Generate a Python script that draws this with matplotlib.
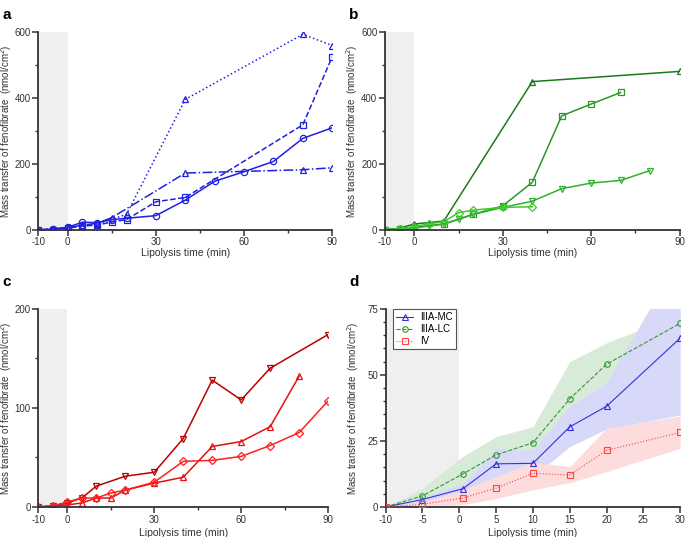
import numpy as np
import matplotlib
matplotlib.use("Agg")
import matplotlib.pyplot as plt
from matplotlib.ticker import MultipleLocator

plt.rcParams['font.family'] = ['Liberation Sans', 'DejaVu Sans']
plt.rcParams['font.size'] = 7
plt.rcParams['axes.unicode_minus'] = False

# ---- panel a (blue) ----
a_circ_x = [-10, -5, 0, 5, 10, 15, 20, 30, 40, 50, 60, 70, 80, 90]
a_circ_y = [0, 2, 8, 23, 22, 31, 35, 43, 90, 147, 176, 207, 277, 309]
a_sq_x = [-10, -5, 0, 5, 10, 15, 20, 30, 40, 80, 90]
a_sq_y = [0, 1, 5, 12, 14, 24, 31, 85, 98, 318, 524]
a_dot_x = [-10, -5, 0, 5, 10, 20, 40, 80, 90]
a_dot_y = [0, 2, 5, 11, 17, 47, 395, 592, 558]
a_dd_x = [-10, -5, 0, 5, 10, 15, 40, 80, 90]
a_dd_y = [0, 3, 7, 14, 20, 37, 172, 182, 188]

# ---- panel b (green) ----
b_tri_x = [-10, -5, 0, 5, 10, 40, 90]
b_tri_y = [0, 5, 18, 22, 27, 450, 481]
b_sq_x = [-10, -5, 0, 10, 20, 30, 40, 50, 60, 70]
b_sq_y = [0, 3, 8, 18, 47, 73, 144, 346, 382, 417]
b_dn_x = [-10, -5, 0, 5, 10, 15, 20, 30, 40, 50, 60, 70, 80]
b_dn_y = [0, 2, 5, 12, 17, 32, 47, 68, 87, 125, 142, 150, 180]
b_dia_x = [-10, -5, 0, 5, 10, 15, 20, 30, 40]
b_dia_y = [0, 3, 10, 18, 25, 52, 60, 68, 70]

# ---- panel c (red) ----
c_dn_x = [-10, -5, 0, 5, 10, 20, 30, 40, 50, 60, 70, 90]
c_dn_y = [0, 1, 4, 9, 21, 31, 35, 69, 128, 108, 140, 174]
c_tri_x = [-10, -5, 0, 5, 10, 15, 20, 30, 40, 50, 60, 70, 80]
c_tri_y = [0, 1, 2, 4, 9, 9, 17, 24, 30, 61, 66, 81, 132]
c_dia_x = [-10, -5, 0, 5, 10, 15, 20, 30, 40, 50, 60, 70, 80, 90]
c_dia_y = [0, 1, 5, 9, 9, 14, 17, 25, 46, 47, 51, 62, 75, 107]

# ---- panel d (means and bands) ----
d_x = [-10, -5, 0.5, 5, 10, 15, 20, 30]
d_mc = [0, 2.8, 6.9, 16.3, 16.5, 30.3, 38.1, 63.9]
d_mc_lo = [0, 1.8, 5.0, 11.2, 11.5, 22.8, 29.5, 34.8]
d_mc_hi = [0, 3.8, 8.8, 21.8, 21.5, 38.0, 47.0, 95.0]
d_lc = [0, 4.2, 12.5, 19.7, 24.3, 40.9, 54.0, 69.5]
d_lc_lo = [0, 1.4, 5.8, 12.8, 18.2, 27.0, 46.0, 66.0]
d_lc_hi = [0, 7.0, 19.2, 26.6, 30.4, 55.0, 62.1, 73.0]
d_iv = [0, 1.0, 3.4, 7.1, 12.7, 12.1, 21.4, 28.2]
d_iv_lo = [0, 0.3, 0.9, 3.2, 6.5, 9.2, 13.4, 22.2]
d_iv_hi = [0, 1.7, 6.5, 11.5, 17.0, 15.2, 29.8, 34.4]

fig = plt.figure(figsize=(6.85, 5.37), dpi=100)
ax_a = fig.add_axes([0.056, 0.572, 0.429, 0.369])
ax_b = fig.add_axes([0.562, 0.572, 0.430, 0.368])
ax_c = fig.add_axes([0.056, 0.056, 0.423, 0.369])
ax_d = fig.add_axes([0.563, 0.056, 0.430, 0.369])

ylab = 'Mass transfer of fenofibrate  (nmol/cm$^2$)'


def style(ax, xmax, ymax, xmin, ymaj, ymin, xlab_y, ylab_x):
    ax.axvspan(-10, 0, color='#efefef', zorder=0, lw=0)
    ax.set_xlim(-10, xmax)
    ax.set_ylim(0, ymax)
    ax.spines['top'].set_visible(False)
    ax.spines['right'].set_visible(False)
    for s in ('left', 'bottom'):
        ax.spines[s].set_linewidth(1.3)
        ax.spines[s].set_color('#333333')
    ax.xaxis.set_minor_locator(MultipleLocator(xmin))
    ax.yaxis.set_minor_locator(MultipleLocator(ymin))
    ax.yaxis.set_major_locator(MultipleLocator(ymaj))
    ax.tick_params(which='major', length=4, width=1.1, color='#333333',
                   labelsize=7, labelcolor='#333333', pad=1.5)
    ax.tick_params(which='minor', length=2.5, width=1.0, color='#333333')
    ax.set_xlabel('Lipolysis time (min)', fontsize=7.5, color='#333333')
    ax.set_ylabel(ylab, fontsize=7, color='#333333')
    ax.xaxis.set_label_coords(0.5, xlab_y)
    ax.yaxis.set_label_coords(ylab_x, 0.5)


mk = dict(markerfacecolor='none', markersize=4.5, markeredgewidth=0.9, lw=1.1)

# panel a
blue = '#2020e0'
ax_a.plot(a_dot_x, a_dot_y, ':', color=blue, marker='^', **mk)
ax_a.plot(a_dd_x, a_dd_y, '-.', color=blue, marker='^', **mk)
ax_a.plot(a_sq_x, a_sq_y, '--', color=blue, marker='s', **mk)
ax_a.plot(a_circ_x, a_circ_y, '-', color=blue, marker='o', **mk)
style(ax_a, 90, 600, 15, 200, 100, -0.09, -0.082)
ax_a.set_xticks([-10, 0, 30, 60, 90])

# panel b
ax_b.plot(b_tri_x, b_tri_y, '-', color='#1a7a1a', marker='^', **mk)
ax_b.plot(b_sq_x, b_sq_y, '-', color='#289828', marker='s', **mk)
ax_b.plot(b_dn_x, b_dn_y, '-', color='#2fb02f', marker='v', **mk)
ax_b.plot(b_dia_x, b_dia_y, '-', color='#40cc30', marker='D', **dict(mk, markersize=3.8))
style(ax_b, 90, 600, 15, 200, 100, -0.09, -0.085)
ax_b.set_xticks([-10, 0, 30, 60, 90])

# panel c
ax_c.plot(c_dn_x, c_dn_y, '-', color='#bb0000', marker='v', **mk)
ax_c.plot(c_tri_x, c_tri_y, '-', color='#e41010', marker='^', **mk)
ax_c.plot(c_dia_x, c_dia_y, '-', color='#ff2020', marker='D', **dict(mk, markersize=3.8))
style(ax_c, 90, 200, 15, 100, 50, -0.105, -0.083)
ax_c.set_xticks([-10, 0, 30, 60, 90])

# panel d
ax_d.fill_between(d_x, d_lc_lo, d_lc_hi, color='#d8ead8', lw=0, zorder=1)
ax_d.fill_between(d_x, d_mc_lo, d_mc_hi, color='#d8d8f8', lw=0, zorder=1.1)
ax_d.fill_between(d_x, d_iv_lo, d_iv_hi, color='#fcdcdc', lw=0, zorder=1.2)
mkd = dict(markerfacecolor='none', markersize=4, markeredgewidth=0.8, lw=0.8, zorder=3)
ax_d.plot(d_x, d_mc, '-', color='#3333dd', marker='^', label='IIIA-MC', **mkd)
ax_d.plot(d_x, d_lc, '--', color='#339933', marker='o', label='IIIA-LC', **mkd)
ax_d.plot(d_x, d_iv, ':', color='#ff4444', marker='s', label='IV', **mkd)
style(ax_d, 30, 75, 5, 25, 5, -0.105, -0.085)
ax_d.set_xticks(np.arange(-10, 31, 5))
leg = ax_d.legend(loc='upper left', bbox_to_anchor=(0.025, 1.0), fontsize=7,
                  frameon=True, fancybox=False, handlelength=1.7,
                  borderpad=0.35, labelspacing=0.2, handletextpad=0.7,
                  borderaxespad=0.0, framealpha=1)
leg.get_frame().set_edgecolor('#555555')
leg.get_frame().set_linewidth(0.8)

for lbl, x, y in [('a', 0.004, 0.985), ('b', 0.51, 0.985),
                  ('c', 0.003, 0.487), ('d', 0.51, 0.487)]:
    fig.text(x, y, lbl, fontsize=11, fontweight='bold', va='top', ha='left')

fig.savefig('out.png', dpi=100)
